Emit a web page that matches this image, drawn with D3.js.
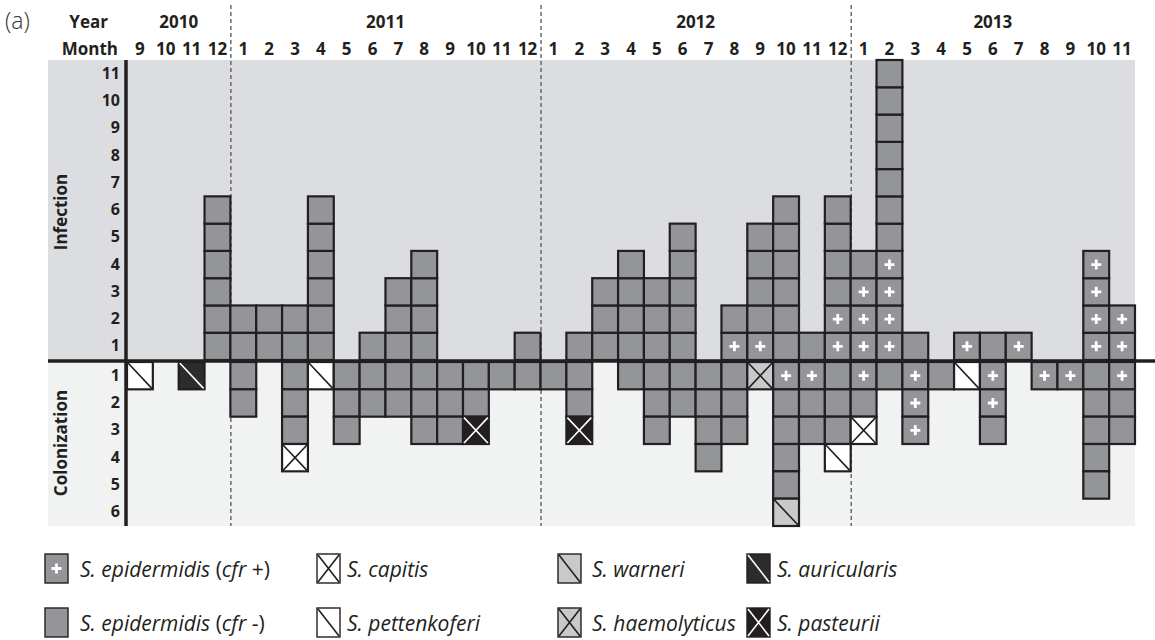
<!DOCTYPE html>
<html>
<head>
<meta charset="utf-8">
<script src="https://cdn.jsdelivr.net/npm/d3@7"></script>
<style>
  body { margin: 0; background: #fff; }
  text { font-family: "Open Sans", sans-serif; fill: #231f20; }
</style>
</head>
<body>
<svg id="chart" width="1155" height="640"></svg>
<script>
// months from Sep 2010 to Nov 2013
var months = [9, 10, 11, 12,
  1, 2, 3, 4, 5, 6, 7, 8, 9, 10, 11, 12,
  1, 2, 3, 4, 5, 6, 7, 8, 9, 10, 11, 12,
  1, 2, 3, 4, 5, 6, 7, 8, 9, 10, 11];
var years = ["2010", "2011", "2012", "2013"];
var infectionTicks = [1, 2, 3, 4, 5, 6, 7, 8, 9, 10, 11];
var colonizationTicks = [1, 2, 3, 4, 5, 6];

// one string per month, one letter per isolate
// p = S. epidermidis cfr+, n = S. epidermidis cfr-, c = capitis, t = pettenkoferi
// w = warneri, h = haemolyticus, a = auricularis, s = pasteurii
// infection: from the baseline upward
var infection = ["", "", "", "nnnnnn",
  "nn", "nn", "nn", "nnnnnn", "", "n", "nnn", "nnnn", "", "", "", "n",
  "", "n", "nnn", "nnnn", "nnn", "nnnnn", "", "pn", "pnnnn", "nnnnnn", "n", "ppnnnn",
  "pppn", "ppppnnnnnnn", "n", "", "p", "n", "p", "", "", "pppp", "pp"];
// colonization: from the baseline downward
var colonization = ["t", "", "a", "",
  "nn", "", "nnnc", "t", "nnn", "nn", "nn", "nnn", "nnn", "nns", "n", "n",
  "n", "nns", "", "n", "nnn", "nn", "nnnn", "nnn", "h", "pnnnnw", "pnn", "nnnt",
  "pnc", "n", "ppp", "n", "t", "ppn", "", "p", "p", "nnnnn", "pnn"];

var legendCodes = ["p", "c", "w", "a", "n", "t", "h", "s"];
var legendLabels = ["S. epidermidis (cfr +)", "S. capitis", "S. warneri", "S. auricularis",
  "S. epidermidis (cfr -)", "S. pettenkoferi", "S. haemolyticus", "S. pasteurii"];

var cellStyle = {
  p: { fill: "#939598", mark: "plus", color: "#fff" },
  n: { fill: "#939598" },
  c: { fill: "#fff", mark: "cross", color: "#231f20" },
  t: { fill: "#fff", mark: "slash", color: "#231f20" },
  w: { fill: "#c8c9cb", mark: "slash", color: "#231f20" },
  h: { fill: "#c8c9cb", mark: "cross", color: "#231f20" },
  a: { fill: "#2e2b2c", mark: "slash", color: "#fff" },
  s: { fill: "#231f20", mark: "cross", color: "#fff" }
};

var svg = d3.select("#chart");
var dark = "#231f20";

var x = d3.scaleBand().domain(d3.range(months.length)).range([127, 1135]);
var yInf = d3.scaleBand().domain(infectionTicks).range([360, 60]);
var yCol = d3.scaleBand().domain(colonizationTicks).range([362, 526]);

// background bands
svg.append("rect").attr("x", 48).attr("y", 60).attr("width", 1135 - 48).attr("height", 300)
  .attr("fill", "#dcdde0");
svg.append("rect").attr("x", 48).attr("y", 360).attr("width", 1135 - 48).attr("height", 166)
  .attr("fill", "#f1f3f2");

// year boundaries
var yearStarts = [0];
months.forEach(function(m, i) { if (m === 1 && i > 0) yearStarts.push(i); });

svg.selectAll(".yearline")
  .data(yearStarts.slice(1))
  .enter().append("line")
  .attr("x1", function(i) { return x(i) + 0.5; })
  .attr("x2", function(i) { return x(i) + 0.5; })
  .attr("y1", 5).attr("y2", 526)
  .attr("stroke", "#555").attr("stroke-width", 1.3)
  .attr("stroke-dasharray", "4,3");

svg.selectAll(".year")
  .data(years)
  .enter().append("text")
  .attr("x", function(d, k) {
    var s = yearStarts[k];
    var e = k < yearStarts.length - 1 ? yearStarts[k + 1] : months.length;
    return (x(s) + x(e - 1) + x.bandwidth()) / 2;
  })
  .attr("y", 28)
  .attr("text-anchor", "middle")
  .attr("font-weight", "bold").attr("font-size", 17)
  .text(function(d) { return d; });

svg.append("text").attr("x", 5).attr("y", 29).attr("font-size", 23).attr("font-weight", 300)
  .style("fill", "#333").text("(a)");
svg.append("text").attr("x", 108).attr("y", 28).attr("text-anchor", "end")
  .attr("font-weight", "bold").attr("font-size", 17).text("Year");
svg.append("text").attr("x", 118).attr("y", 55).attr("text-anchor", "end")
  .attr("font-weight", "bold").attr("font-size", 17).text("Month");

// month axis
var monthAxis = svg.append("g")
  .attr("transform", "translate(0,55)")
  .call(d3.axisTop(x).tickSize(0).tickPadding(0).tickFormat(function(i) { return months[i]; }));
monthAxis.select(".domain").remove();
monthAxis.selectAll("text").attr("font-size", 17).attr("font-weight", "bold")
  .attr("font-family", "Open Sans").attr("dy", 0);

// cells
var cells = [];
infection.forEach(function(s, i) {
  s.split("").forEach(function(c, r) {
    cells.push({ code: c, x: x(i), y: yInf(infectionTicks[r]), w: x.bandwidth(), h: yInf.bandwidth() });
  });
});
colonization.forEach(function(s, i) {
  s.split("").forEach(function(c, r) {
    cells.push({ code: c, x: x(i), y: yCol(colonizationTicks[r]), w: x.bandwidth(), h: yCol.bandwidth() });
  });
});

function drawCell(g, code, w, h, sw) {
  var st = cellStyle[code];
  g.append("rect").attr("width", w).attr("height", h)
    .attr("fill", st.fill).attr("stroke", dark).attr("stroke-width", sw);
  if (st.mark === "plus") {
    g.append("path")
      .attr("d", "M" + (w / 2 - 5) + "," + (h / 2) + "h10M" + (w / 2) + "," + (h / 2 - 5) + "v10")
      .attr("stroke", st.color).attr("stroke-width", 2.8);
  } else if (st.mark === "slash") {
    g.append("path").attr("d", "M1,1L" + (w - 1) + "," + (h - 1))
      .attr("stroke", st.color).attr("stroke-width", 1.6);
  } else if (st.mark === "cross") {
    g.append("path").attr("d", "M1,1L" + (w - 1) + "," + (h - 1) + "M" + (w - 1) + ",1L1," + (h - 1))
      .attr("stroke", st.color).attr("stroke-width", 1.6);
  }
}

svg.selectAll(".cell")
  .data(cells)
  .enter().append("g")
  .attr("class", "cell")
  .attr("transform", function(d) { return "translate(" + [d.x, d.y] + ")"; })
  .each(function(d) { drawCell(d3.select(this), d.code, d.w, d.h, 2.2); });

// y axes
var infAxis = svg.append("g").attr("transform", "translate(125,0)")
  .call(d3.axisLeft(yInf).tickSize(0).tickPadding(5));
var colAxis = svg.append("g").attr("transform", "translate(125,0)")
  .call(d3.axisLeft(yCol).tickSize(0).tickPadding(5));
[infAxis, colAxis].forEach(function(a) {
  a.select(".domain").remove();
  a.selectAll("text").attr("font-size", 16).attr("font-weight", "bold").attr("font-family", "Open Sans");
});

svg.append("line").attr("x1", 126).attr("x2", 126).attr("y1", 60).attr("y2", 526)
  .attr("stroke", dark).attr("stroke-width", 3.5);
svg.append("line").attr("x1", 48).attr("x2", 1155).attr("y1", 361).attr("y2", 361)
  .attr("stroke", dark).attr("stroke-width", 3.5);

svg.append("text").attr("transform", "translate(67,212) rotate(-90)")
  .attr("text-anchor", "middle").attr("font-weight", "bold").attr("font-size", 17).text("Infection");
svg.append("text").attr("transform", "translate(67,443) rotate(-90)")
  .attr("text-anchor", "middle").attr("font-weight", "bold").attr("font-size", 17).text("Colonization");

// legend
var legendX = [45, 317, 558, 747];
var legendY = [554, 608];
var legend = svg.selectAll(".legend")
  .data(legendCodes)
  .enter().append("g")
  .attr("class", "legend")
  .attr("transform", function(d, i) { return "translate(" + [legendX[i % 4], legendY[Math.floor(i / 4)]] + ")"; });

legend.each(function(d) { drawCell(d3.select(this), d, 23, 29, 1.4); });

legend.append("text")
  .attr("x", function(d, i) { return [35, 30, 34, 30][i % 4]; })
  .attr("y", 23)
  .attr("font-size", 21)
  .each(function(d, i) {
    var t = d3.select(this);
    legendLabels[i].split(/([()+\-])/).forEach(function(part) {
      if (!part) return;
      t.append("tspan")
        .attr("font-style", /[()+\-]/.test(part) ? "normal" : "italic")
        .text(part);
    });
  });
</script>
</body>
</html>
